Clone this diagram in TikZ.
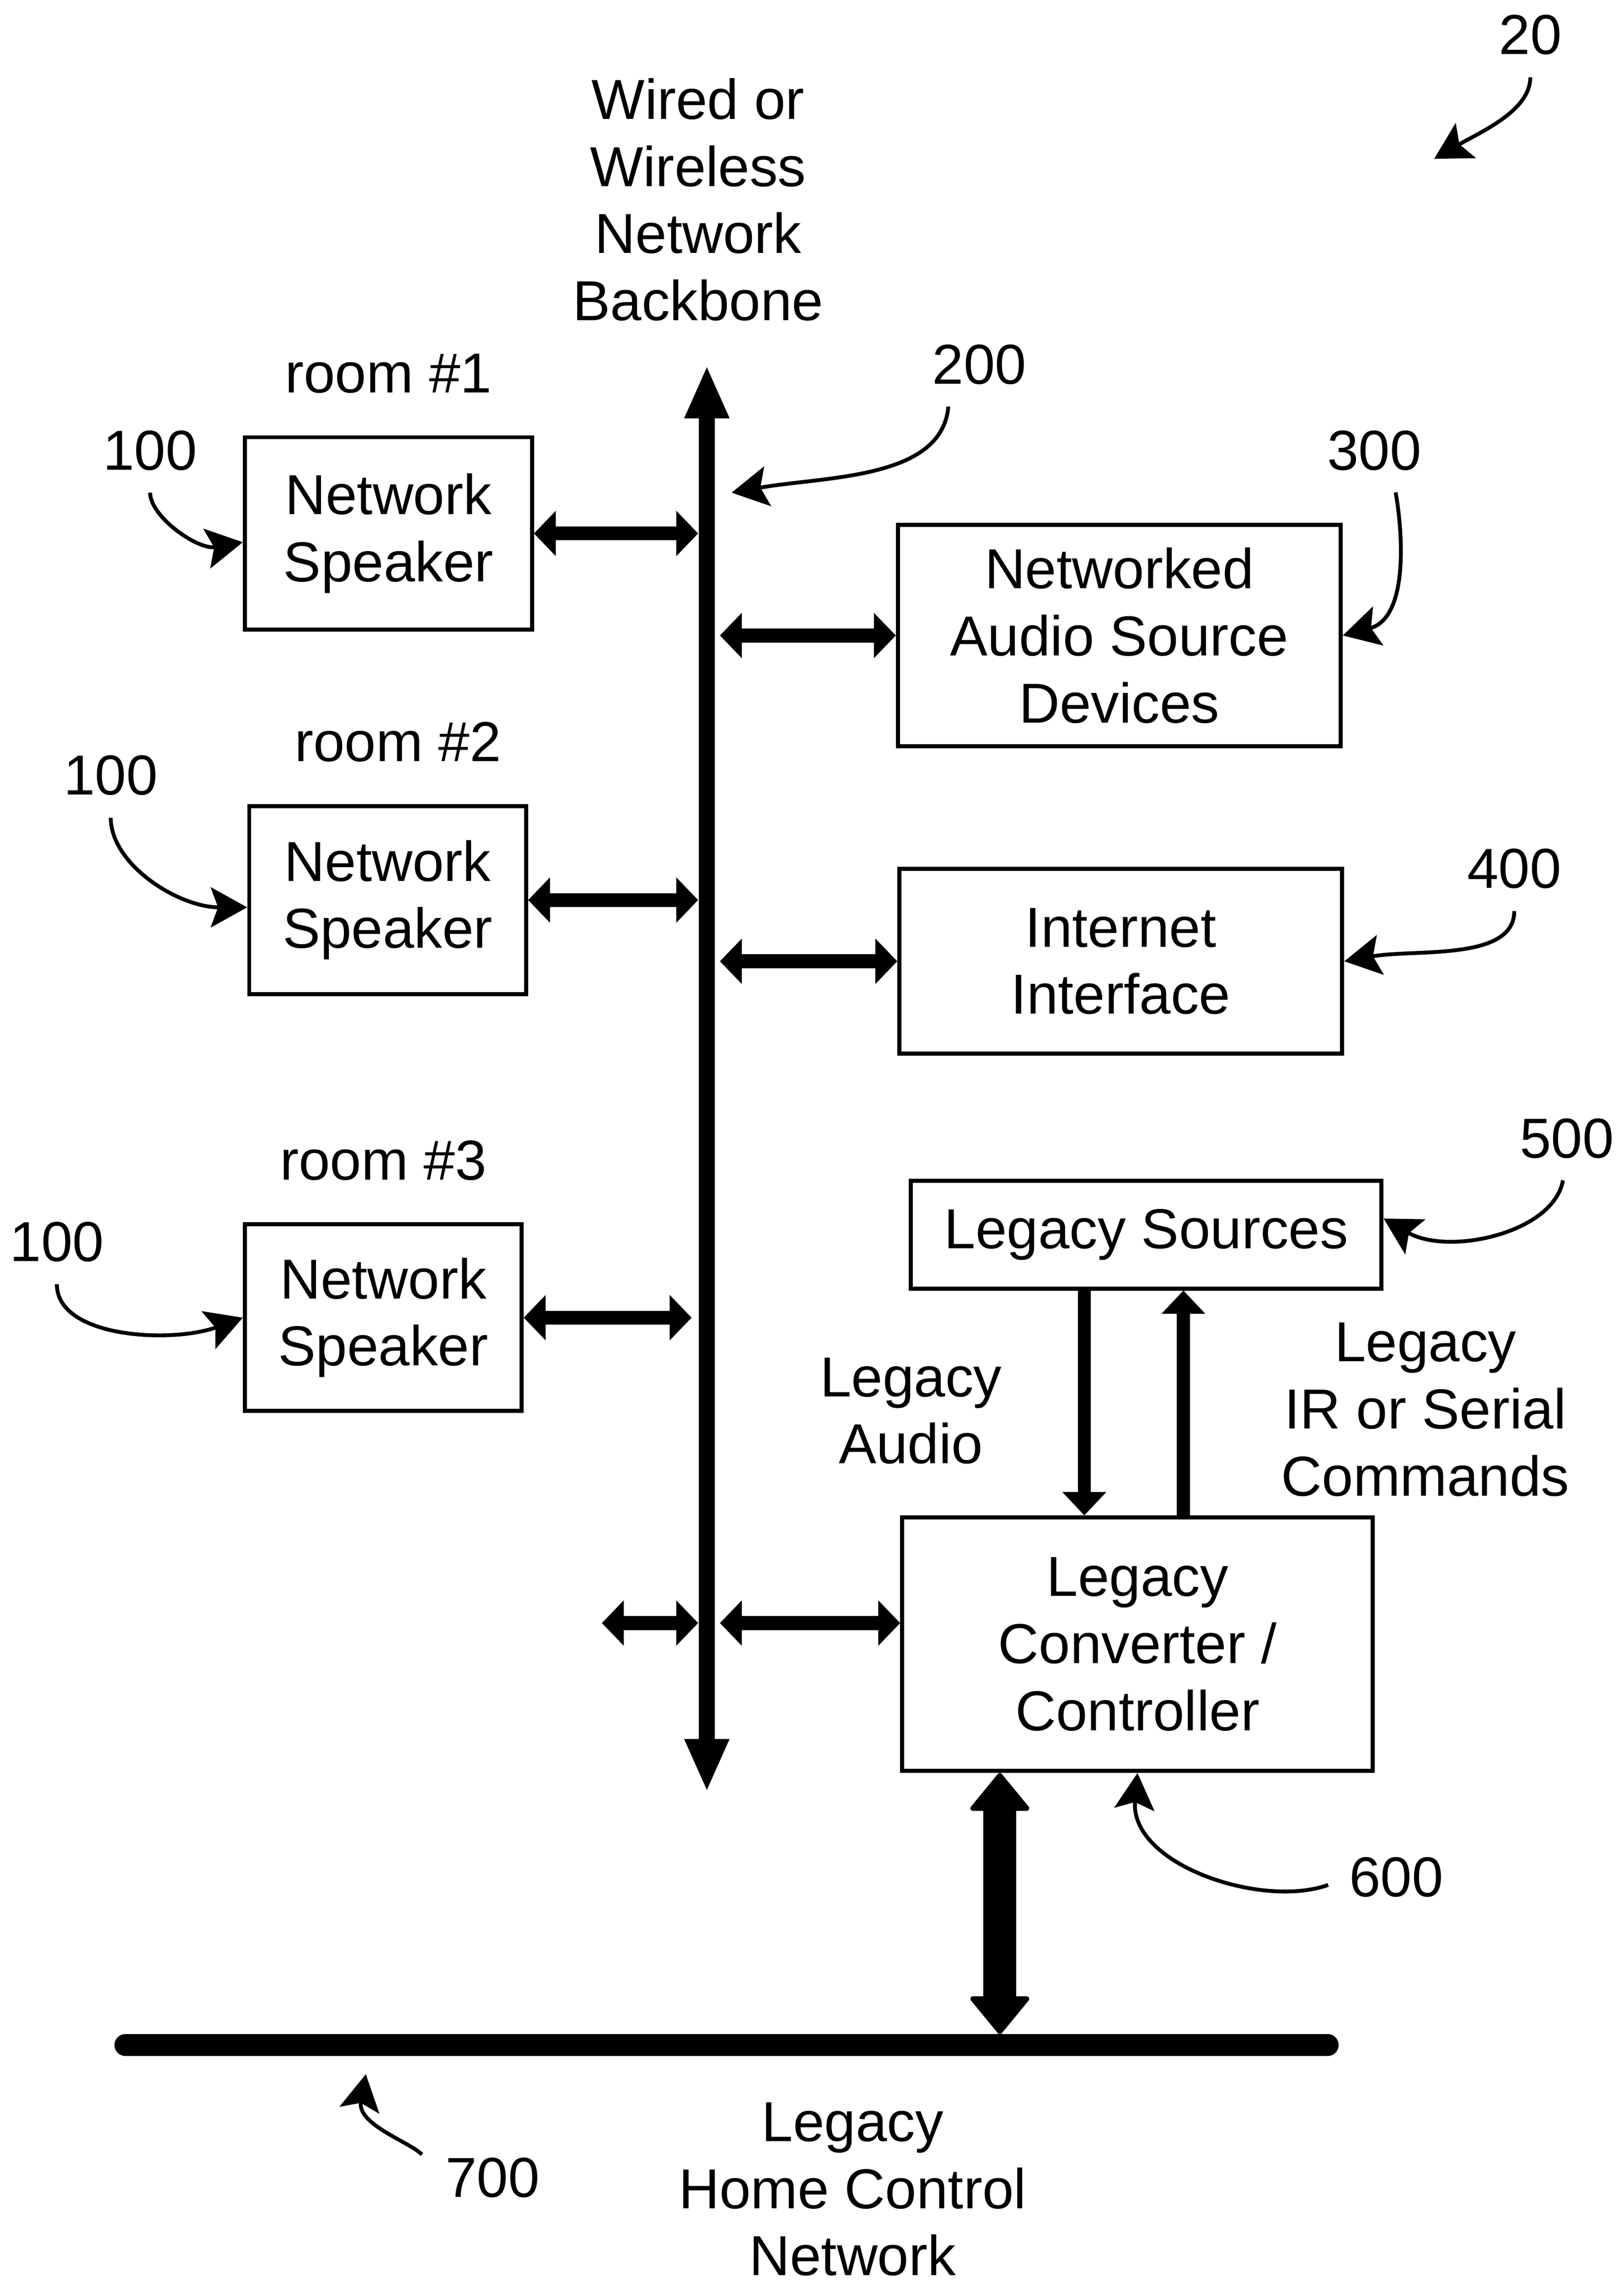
\documentclass[tikz,border=0pt]{standalone}
\usepackage{fontspec}
\setmainfont{Liberation Sans}
\usetikzlibrary{arrows.meta}
\usetikzlibrary{positioning}

\begin{document}
\begin{tikzpicture}[x=0.02cm,y=0.02cm,
txt/.style={font=\fontsize{22}{26.2}\selectfont,align=center,inner sep=0pt},
box/.style={txt,draw,line width=1.6pt},
link/.style={line width=0.19cm,{Triangle[length=0.3cm,width=0.62cm,line width=0.5pt]}-{Triangle[length=0.3cm,width=0.62cm,line width=0.5pt]}},
flow/.style={line width=0.18cm,-{Triangle[length=0.32cm,width=0.6cm,line width=0.5pt]}},
ref/.style={line width=1.5pt,shorten <=0.3cm,-{Stealth[length=0.5cm,width=0.55cm,inset=0.1cm]}}]
\useasboundingbox (0,0) rectangle (1114,1569);

\node[txt] (title) at (479,1432) {Wired or\\Wireless\\Network\\Backbone};
\coordinate (bbT) at (485,1317);
\coordinate (bbB) at (485,341);
\draw[line width=0.22cm,{Triangle[length=0.7cm,width=0.62cm,line width=0.5pt]}-{Triangle[length=0.7cm,width=0.62cm,line width=0.5pt]}] (bbT) -- (bbB);

\node[box,minimum width=3.94cm,minimum height=2.64cm] (spk1) at (266.5,1203) {Network\\Speaker};
\node[box,minimum width=3.8cm,minimum height=2.58cm] (spk2) at (266,951.5) {Network\\Speaker};
\node[box,minimum width=3.8cm,minimum height=2.56cm] (spk3) at (263,665) {Network\\Speaker};
\node[box,minimum width=6.08cm,minimum height=3.04cm] (src) at (768,1133) {Networked\\Audio Source\\Devices};
\node[box,minimum width=6.08cm,minimum height=2.54cm] (inet) at (769,909.5) {Internet\\Interface};
\node[box,minimum width=6.46cm,minimum height=1.48cm] (legsrc) at (786.5,722) {Legacy Sources};
\node[box,minimum width=6.46cm,minimum height=3.48cm] (conv) at (780.5,441) {Legacy\\Converter /\\Controller};

\node[txt,above=0.57cm of spk1] (room1) {room \#1};
\node[txt,above=0.57cm of spk2,xshift=0.14cm] (room2) {room \#2};
\node[txt,above=0.57cm of spk3] (room3) {room \#3};
\node[txt] (audio) at (625,601) {Legacy\\Audio};
\node[txt] (cmds) at (978,602) {Legacy\\IR or Serial\\Commands};
\node[txt] (hcn) at (585,67) {Legacy\\Home Control\\Network};

\draw[link,shorten >=0.12cm] (spk1.east) -- (spk1.east -| bbT);
\draw[link,shorten >=0.12cm] (spk2.east) -- (spk2.east -| bbT);
\draw[link,shorten >=0.21cm] (spk3.east) -- (spk3.east -| bbT);
\draw[link,shorten <=0.18cm] (src.west -| bbT) -- (src.west);
\draw[link,shorten <=0.18cm] (inet.west -| bbT) -- (inet.west);
\coordinate (convIn) at ([yshift=0.29cm]conv.west);
\draw[link,shorten <=0.18cm] (convIn -| bbT) -- (convIn);
\coordinate (stub) at (413,455.5);
\draw[link,shorten >=0.12cm] (stub) -- (stub -| bbT);

\coordinate (audioLn) at ([xshift=-0.85cm]legsrc.south);
\draw[flow] (audioLn) -- (audioLn |- conv.north);
\coordinate (cmdLn) at ([xshift=0.63cm]conv.north);
\draw[flow] (cmdLn) -- (cmdLn |- legsrc.south);

\coordinate (barL) at (86,166);
\coordinate (barR) at (911,166);
\draw[line width=0.3cm,line cap=round] (barL) -- (barR);
\coordinate (hcLn) at ([xshift=-1.89cm]conv.south);
\draw[line width=0.45cm,shorten >=0.15cm,{Triangle[length=0.54cm,width=0.87cm,round,line width=2pt]}-{Triangle[length=0.54cm,width=0.87cm,round,line width=2pt]}] (hcLn) -- (hcLn |- barL);

\node[txt] (r20) at (1050,1545) {20};
\node[txt] (r200) at (672,1319) {200};
\node[txt] (r300) at (943,1260) {300};
\node[txt] (r100a) at (103,1260) {100};
\node[txt] (r100b) at (76,1037) {100};
\node[txt] (r400) at (1039,973) {400};
\node[txt] (r500) at (1075,788) {500};
\node[txt] (r100c) at (39,717) {100};
\node[txt] (r600) at (958,281) {600};
\node[txt] (r700) at (338,75) {700};
\coordinate (t20) at (984,1460);
\coordinate (t200) at (502,1231);
\coordinate (t700) at (251,146);

\draw[ref] (r20.south) to[out=-90,in=30] (t20);
\draw[ref] ([xshift=-0.4cm]r200.south) to[out=-95,in=10] (t200);
\draw[ref] ([xshift=0.24cm]r300.south) to[out=-80,in=15] (src.east);
\draw[ref] (r100a.south) to[out=-90,in=190] ([yshift=-0.12cm]spk1.west);
\draw[ref] (r100b.south) to[out=-90,in=180] ([yshift=-0.1cm]spk2.west);
\draw[ref] (r100c.south) to[out=-90,in=200] (spk3.west);
\draw[ref] (r400.south) to[out=-90,in=10] (inet.east);
\draw[ref] (r500.south) to[out=-100,in=-30] ([yshift=0.22cm]legsrc.east);
\draw[ref] (r600.west) to[out=200,in=-95] (conv.south);
\draw[ref,shorten <=0.45cm] (r700.west) to[out=135,in=-100] (t700);

\end{tikzpicture}
\end{document}
